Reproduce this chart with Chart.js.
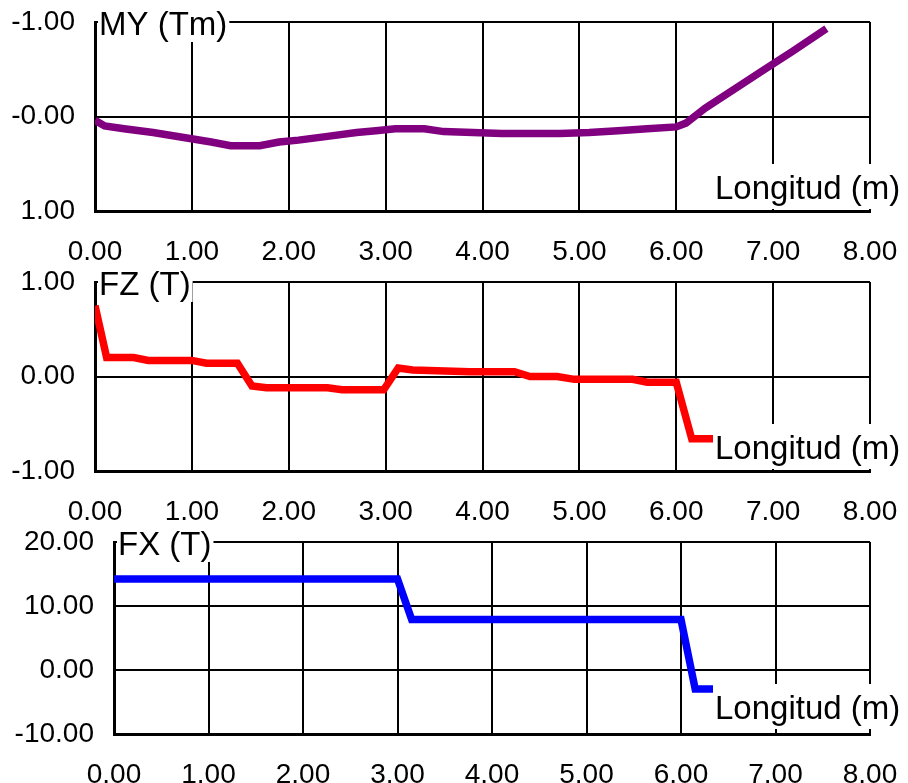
<!DOCTYPE html>
<html>
<head>
<meta charset="utf-8">
<script src="https://cdn.jsdelivr.net/npm/chart.js@4/dist/chart.umd.min.js"></script>
<style>
  body { margin: 0; background: #fff; }
  canvas { position: absolute; left: 0; }
</style>
</head>
<body>
<canvas id="my" width="908" height="260" style="top:0px"></canvas>
<canvas id="fz" width="908" height="260" style="top:260px"></canvas>
<canvas id="fx" width="908" height="263" style="top:520px"></canvas>
<script>
// values
const xTicks = [0, 1, 2, 3, 4, 5, 6, 7, 8];

const myX = [0, 0.1, 0.3, 0.6, 0.9, 1.2, 1.4, 1.7, 1.9, 2.1, 2.4, 2.7, 2.9, 3.1, 3.4, 3.6, 3.9, 4.2, 4.5, 4.8, 5.1, 5.4, 5.7, 6.0, 6.1, 6.3, 6.6, 6.9, 7.2, 7.55];
const myY = [0.04, 0.10, 0.13, 0.17, 0.22, 0.27, 0.31, 0.31, 0.27, 0.25, 0.21, 0.17, 0.15, 0.13, 0.13, 0.16, 0.17, 0.18, 0.18, 0.18, 0.17, 0.15, 0.13, 0.11, 0.07, -0.09, -0.29, -0.49, -0.69, -0.93];
const myTickLabels = ["-1.00", "-0.00", "1.00"];

const fzX = [0, 0.12, 0.4, 0.55, 1.0, 1.15, 1.47, 1.62, 1.77, 2.4, 2.55, 2.98, 3.13, 3.28, 3.87, 4.33, 4.49, 4.77, 4.95, 5.55, 5.7, 6.0, 6.16, 6.37, 7.55];
const fzY = [0.75, 0.20, 0.20, 0.17, 0.17, 0.14, 0.14, -0.10, -0.12, -0.12, -0.14, -0.14, 0.09, 0.07, 0.05, 0.05, 0.0, 0.0, -0.03, -0.03, -0.06, -0.06, -0.66, -0.66, -0.66];
const fzTickLabels = ["-1.00", "0.00", "1.00"];

const fxX = [0, 3.0, 3.15, 6.0, 6.15, 7.55];
const fxY = [14.2, 14.2, 7.9, 7.9, -2.95, -2.95];
const fxTickLabels = ["-10.00", "0.00", "10.00", "20.00"];

const FONT = '"Liberation Sans", Arial, sans-serif';

const labelBoxes = {
  id: "labelBoxes",
  afterDraw(chart, args, opts) {
    const ctx = chart.ctx;
    const a = chart.chartArea;
    ctx.save();
    ctx.font = "33px " + FONT;
    ctx.textBaseline = "alphabetic";
    // title at top left
    const tw = ctx.measureText(opts.title).width;
    ctx.fillStyle = "#fff";
    ctx.fillRect(a.left + 3, 0, tw + 3, 42);
    ctx.fillStyle = "#000";
    ctx.fillText(opts.title, a.left + 4, 35);
    // axis name at bottom right
    ctx.fillStyle = "#fff";
    ctx.fillRect(713, 164, 195, 45);
    ctx.fillStyle = "#000";
    ctx.fillText("Longitud (m)", 715, 199);
    ctx.restore();
  }
};

function panel(id, xs, ys, color, title, yMin, yMax, yStep, yLabels, reverse, leftWidth) {
  const yValues = [];
  for (let v = yMin; v <= yMax + 1e-9; v += yStep) yValues.push(v);
  return new Chart(document.getElementById(id), {
    type: "line",
    data: {
      datasets: [{
        data: xs.map((x, i) => ({ x: x, y: ys[i] })),
        borderColor: color,
        borderWidth: 7.5,
        borderCapStyle: "butt",
        pointRadius: 0,
        tension: 0,
        fill: false
      }]
    },
    options: {
      responsive: false,
      animation: false,
      devicePixelRatio: 1,
      layout: { padding: { left: 0, right: 38, top: 22, bottom: 0 } },
      plugins: {
        legend: { display: false },
        tooltip: { enabled: false },
        labelBoxes: { title: title }
      },
      scales: {
        x: {
          type: "linear",
          min: 0,
          max: 8,
          afterBuildTicks: (s) => { s.ticks = xTicks.map(v => ({ value: v })); },
          afterFit: (s) => { s.height = 49; s.paddingLeft = 0; s.paddingRight = 0; },
          grid: { color: "#000", lineWidth: 2, drawTicks: false },
          border: { color: "#000", width: 3 },
          ticks: {
            color: "#000",
            padding: 24,
            font: { family: FONT, size: 28 },
            maxRotation: 0,
            callback: (v) => Number(v).toFixed(2)
          }
        },
        y: {
          type: "linear",
          min: yMin,
          max: yMax,
          reverse: reverse,
          afterBuildTicks: (s) => { s.ticks = yValues.map(v => ({ value: v })); },
          afterFit: (s) => { s.width = leftWidth; s.paddingTop = 0; s.paddingBottom = 0; },
          grid: { color: "#000", lineWidth: 2, drawTicks: false },
          border: { color: "#000", width: 3 },
          ticks: {
            color: "#000",
            padding: 20,
            font: { family: FONT, size: 28 },
            callback: (v, i) => yLabels[i]
          }
        }
      }
    },
    plugins: [labelBoxes]
  });
}

panel("my", myX, myY, "#800080", "MY (Tm)", -1, 1, 1, myTickLabels, true, 95);
panel("fz", fzX, fzY, "#ff0000", "FZ (T)", -1, 1, 1, fzTickLabels, false, 95);
panel("fx", fxX, fxY, "#0000ff", "FX (T)", -10, 20, 10, fxTickLabels, false, 114);
</script>
</body>
</html>
